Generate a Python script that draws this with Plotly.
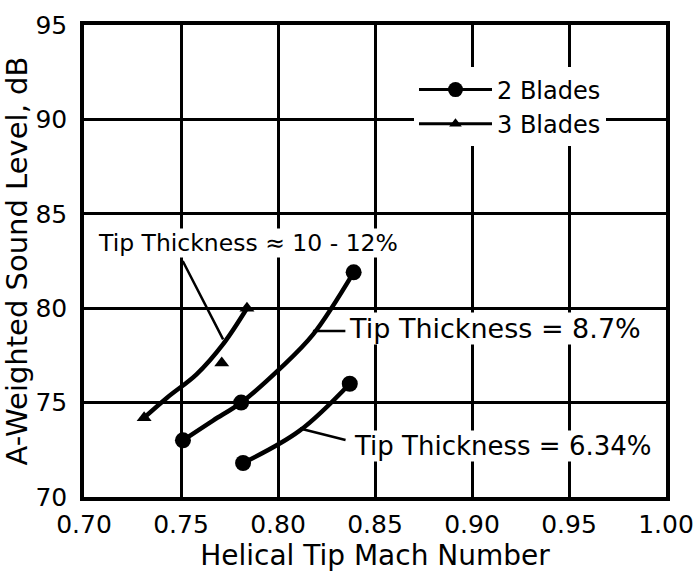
import plotly.graph_objects as go

mach_2b_87 = [0.751, 0.781, 0.839]
spl_2b_87 = [73.0, 75.0, 81.9]
mach_2b_634 = [0.782, 0.837]
spl_2b_634 = [71.8, 76.0]
mach_3b = [0.731, 0.771, 0.784]
spl_3b = [74.2, 77.1, 80.0]

# --- faired curves as drawn in the figure ---
fair_87_x = [0.751, 0.7665, 0.781, 0.801, 0.818, 0.839]
fair_87_y = [73.0, 74.05, 75.0, 76.8, 78.6, 81.9]
fair_634_x = [0.782, 0.811, 0.837]
fair_634_y = [71.8, 73.5, 76.0]
fair_3b_x = [0.731, 0.7428, 0.758, 0.7717, 0.784]
fair_3b_y = [74.2, 75.26, 76.5, 78.1, 80.0]

x_ticks = [0.70, 0.75, 0.80, 0.85, 0.90, 0.95, 1.00]
y_ticks = [70, 75, 80, 85, 90, 95]

labels = ["Tip Thickness \u2248 10 - 12%", "Tip Thickness = 8.7%", "Tip Thickness = 6.34%"]

FONT = "DejaVu Sans"
BLACK = "black"

fig = go.Figure()

for fx, fy in [(fair_87_x, fair_87_y), (fair_634_x, fair_634_y), (fair_3b_x, fair_3b_y)]:
    fig.add_trace(go.Scatter(x=fx, y=fy, mode="lines", line=dict(color=BLACK, width=4.5, shape="spline"),
                             showlegend=False, hoverinfo="skip"))

fig.add_trace(go.Scatter(x=mach_2b_87 + mach_2b_634, y=spl_2b_87 + spl_2b_634, mode="markers",
                         marker=dict(symbol="circle", size=16, color=BLACK), showlegend=False))
fig.add_trace(go.Scatter(x=mach_3b, y=spl_3b, mode="markers",
                         marker=dict(symbol="triangle-up", size=13, color=BLACK), showlegend=False))

# legend-only entries
fig.add_trace(go.Scatter(x=[None], y=[None], mode="lines+markers", name="2 Blades",
                         line=dict(color=BLACK, width=3), marker=dict(symbol="circle", size=15, color=BLACK)))
fig.add_trace(go.Scatter(x=[None], y=[None], mode="lines+markers", name="3 Blades",
                         line=dict(color=BLACK, width=3), marker=dict(symbol="triangle-up", size=11, color=BLACK)))

# callouts: text anchor (left edge), size, leader tail -> head (data coords)
callouts = [
    dict(tx=0.7067, ty=83.47, size=23.5, lx=(0.7505, 0.7717), ly=(82.58, 78.35)),
    dict(tx=0.8361, ty=78.9, size=27, lx=(0.8355, 0.818), ly=(78.79, 78.79)),
    dict(tx=0.8387, ty=72.68, size=26, lx=(0.8356, 0.8113), ly=(73.0, 73.63)),
]
for txt, c in zip(labels, callouts):
    fig.add_annotation(x=c["tx"], y=c["ty"], text=txt, showarrow=False, xanchor="left",
                       font=dict(family=FONT, size=c["size"], color=BLACK), bgcolor="white", borderpad=0)
    fig.add_annotation(x=c["lx"][1], y=c["ly"][1], ax=c["lx"][0], ay=c["ly"][0],
                       axref="x", ayref="y", text="", showarrow=True, arrowhead=0,
                       arrowwidth=2.5, arrowcolor=BLACK)

axis_common = dict(showline=True, linecolor=BLACK, linewidth=3.5, mirror=True,
                   showgrid=True, gridcolor=BLACK, gridwidth=2.5, zeroline=False, automargin=False,
                   ticks="", ticklabeloverflow="allow", tickfont=dict(family=FONT, size=25, color=BLACK))

fig.update_layout(
    width=693, height=574,
    margin=dict(l=84, r=27, t=25, b=77),
    paper_bgcolor="white", plot_bgcolor="white",
    font=dict(family=FONT, color=BLACK),
    xaxis=dict(range=[0.70, 1.00], tickvals=x_ticks, ticktext=[f"{v:.2f}" for v in x_ticks],
               title=dict(text="Helical Tip Mach Number", font=dict(family=FONT, size=28), standoff=0),
               ticklabelstandoff=2, **axis_common),
    yaxis=dict(range=[70, 95], tickvals=y_ticks, ticktext=[str(v) for v in y_ticks],
               title=dict(text="A-Weighted Sound Level, dB", font=dict(family=FONT, size=29), standoff=6),
               ticklabelstandoff=8, **axis_common),
    legend=dict(x=0.567, y=0.91, xanchor="left", yanchor="top", bgcolor="white",
                font=dict(family=FONT, size=24, color=BLACK), itemwidth=73, tracegroupgap=4),
)

# drop the page's default body margin so the figure sits at the window origin
fig.write_html("out.html", config={"displayModeBar": False},
               post_script="document.body.style.margin='0px';")
